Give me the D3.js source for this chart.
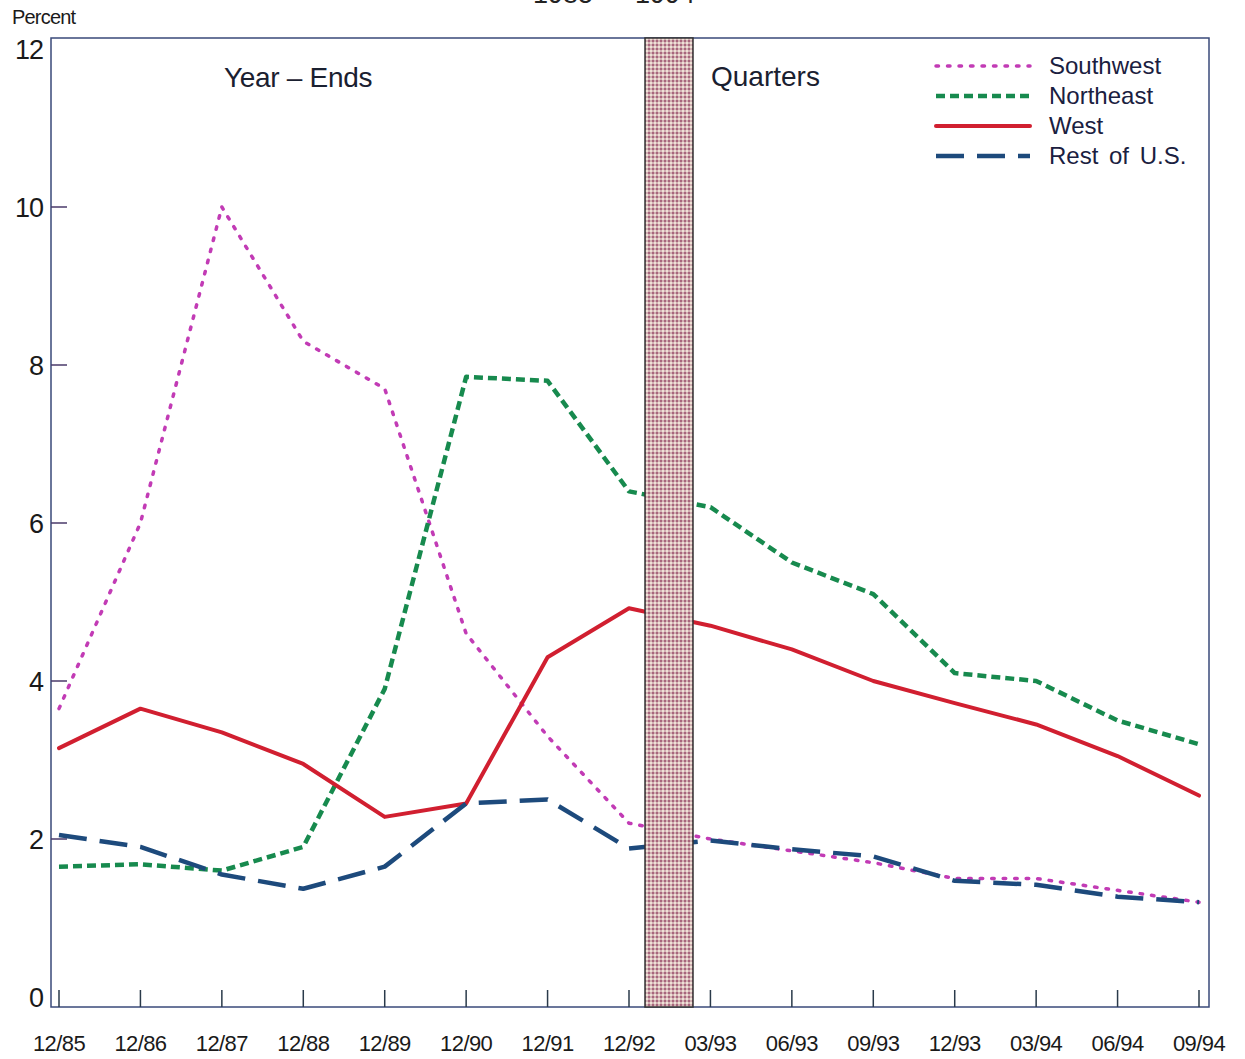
<!DOCTYPE html>
<html>
<head>
<meta charset="utf-8">
<script src="https://cdn.jsdelivr.net/npm/d3@7"></script>
<style>
  body { margin: 0; background: #fff; }
  svg { display: block; font-family: "Liberation Sans", Arial, sans-serif; }
</style>
</head>
<body>
<div id="container"></div>
<script>
// data
const periods = ["12/85", "12/86", "12/87", "12/88", "12/89", "12/90", "12/91", "12/92",
                 "03/93", "06/93", "09/93", "12/93", "03/94", "06/94", "09/94"];
const southwest = [3.65, 6.0, 10.0, 8.3, 7.7, 4.6, 3.3, 2.2, 2.0, 1.85, 1.7, 1.5, 1.5, 1.35, 1.2];
const northeast = [1.65, 1.68, 1.6, 1.9, 3.9, 7.85, 7.8, 6.4, 6.2, 5.5, 5.1, 4.1, 4.0, 3.5, 3.2];
const west = [3.15, 3.65, 3.35, 2.95, 2.28, 2.45, 4.3, 4.92, 4.7, 4.4, 4.0, 3.72, 3.45, 3.05, 2.55];
const restUS = [2.05, 1.9, 1.55, 1.37, 1.65, 2.45, 2.5, 1.88, 1.98, 1.87, 1.78, 1.47, 1.42, 1.27, 1.2];
const yTicks = [0, 2, 4, 6, 8, 10, 12];

const series = [
  { name: "Southwest", values: southwest, color: "#c23bb5", dash: "2.5,9", cap: "round", width: 3.5 },
  { name: "Northeast", values: northeast, color: "#178a4e", dash: "9,5", cap: "butt", width: 4.5 },
  { name: "West", values: west, color: "#d11f30", dash: null, cap: "round", width: 4 },
  { name: "Rest of U.S.", values: restUS, color: "#1d4a7c", dash: "28,13", cap: "butt", width: 4.5 }
];

const W = 1245, H = 1059;
const frame = { left: 51, right: 1209, top: 38, bottom: 1007 };

let viz = d3.select("#container")
  .append("svg")
    .attr("width", W)
    .attr("height", H)
;

const x = d3.scalePoint().domain(periods).range([59, 1199]);
const y = d3.scaleLinear().domain([0, 12]).range([997, 49]);

// stipple pattern for the shaded break
const defs = viz.append("defs");
const pat = defs.append("pattern")
    .attr("id", "stip")
    .attr("width", 4)
    .attr("height", 4)
    .attr("patternUnits", "userSpaceOnUse");
pat.append("rect").attr("width", 4).attr("height", 4).attr("fill", "#d2b1b4");
pat.append("rect").attr("width", 2).attr("height", 2).attr("fill", "#a8667c");
pat.append("rect").attr("x", 2).attr("y", 2).attr("width", 2).attr("height", 2).attr("fill", "#efe2d6");

// title (cut off at the top, as in the original)
viz.append("text")
    .text("1985 \u2014 1994")
    .attr("x", 614)
    .attr("y", 3)
    .attr("text-anchor", "middle")
    .attr("font-size", 27)
    .attr("fill", "#222");

// frame
viz.append("rect")
    .attr("x", frame.left)
    .attr("y", frame.top)
    .attr("width", frame.right - frame.left)
    .attr("height", frame.bottom - frame.top)
    .attr("fill", "none")
    .attr("stroke", "#3a4a7a")
    .attr("stroke-width", 1.5);

// y ticks
viz.selectAll(".ytick")
  .data(yTicks.filter(d => d > 0 && d < 12))
  .join("line")
    .attr("x1", frame.left)
    .attr("x2", frame.left + 16)
    .attr("y1", d => y(d))
    .attr("y2", d => y(d))
    .attr("stroke", "#4a3a6a")
    .attr("stroke-width", 1.5);

viz.selectAll(".ylab")
  .data(yTicks)
  .join("text")
    .text(d => d)
    .attr("x", 43)
    .attr("y", d => y(d) + 10)
    .attr("text-anchor", "end")
    .attr("font-size", 27)
    .attr("letter-spacing", -1)
    .attr("fill", "#1a1a1a");

viz.append("text")
    .text("Percent")
    .attr("x", 12)
    .attr("y", 24)
    .attr("font-size", 20)
    .attr("fill", "#1a1a1a")
    .attr("letter-spacing", -0.8);

// x ticks
viz.selectAll(".xtick")
  .data(periods)
  .join("line")
    .attr("x1", d => x(d))
    .attr("x2", d => x(d))
    .attr("y1", frame.bottom)
    .attr("y2", frame.bottom - 17)
    .attr("stroke", "#2a3a4a")
    .attr("stroke-width", 1.5);

viz.selectAll(".xlab")
  .data(periods)
  .join("text")
    .text(d => d)
    .attr("x", d => x(d))
    .attr("y", 1051)
    .attr("text-anchor", "middle")
    .attr("font-size", 22)
    .attr("letter-spacing", -0.6)
    .attr("fill", "#1a1a1a");

// lines
const line = d3.line()
    .x((d, i) => x(periods[i]))
    .y(d => y(d));

series.forEach(s => {
  viz.append("path")
      .datum(s.values)
      .attr("d", line)
      .attr("fill", "none")
      .attr("stroke", s.color)
      .attr("stroke-width", s.width)
      .attr("stroke-dasharray", s.dash)
      .attr("stroke-linecap", s.cap)
      .attr("stroke-linejoin", "round");
});

// shaded break between year-ends and quarters
viz.append("rect")
    .attr("x", 645)
    .attr("y", frame.top)
    .attr("width", 48)
    .attr("height", frame.bottom - frame.top)
    .attr("fill", "url(#stip)")
    .attr("stroke", "#333")
    .attr("stroke-width", 1.5);

// section labels
viz.append("text")
    .text("Year \u2013 Ends")
    .attr("x", 224)
    .attr("y", 87)
    .attr("font-size", 28)
    .attr("letter-spacing", -0.3)
    .attr("fill", "#1a2030");
viz.append("text")
    .text("Quarters")
    .attr("x", 711)
    .attr("y", 86)
    .attr("font-size", 28)
    .attr("fill", "#1a2030");

// legend
const leg = viz.append("g");
series.forEach((s, i) => {
  const ly = 66 + i * 30;
  leg.append("line")
      .attr("x1", 936)
      .attr("x2", 1030)
      .attr("y1", ly)
      .attr("y2", ly)
      .attr("stroke", s.color)
      .attr("stroke-width", s.width)
      .attr("stroke-dasharray", s.dash)
      .attr("stroke-linecap", s.cap);
  leg.append("text")
      .text(s.name)
      .attr("x", 1049)
      .attr("y", ly + 8)
      .attr("font-size", 24)
      .attr("word-spacing", 4)
      .attr("fill", "#1a2040");
});
</script>
</body>
</html>
